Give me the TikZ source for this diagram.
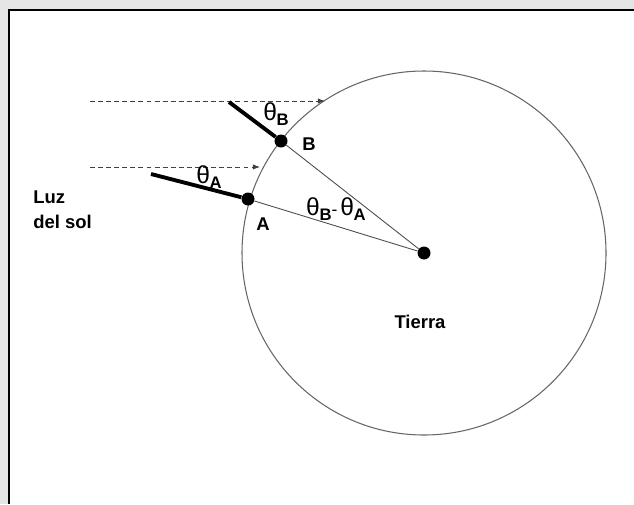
\documentclass[tikz,border=0pt]{standalone}
\usepackage{fontspec}
\setmainfont{Liberation Sans}
\usepackage{tikz}
\usetikzlibrary{arrows.meta}
\newcommand{\angsub}[1]{{\fontsize{14}{14}\selectfont θ}\kern-0.2pt\raisebox{-3pt}{\fontsize{9.5}{9.5}\selectfont\bfseries #1}}

\begin{document}
\begin{tikzpicture}[x=0.02cm, y=-0.02cm,
    dot/.style={circle, fill=black, inner sep=0pt, minimum size=0.26cm},
    lbl/.style={font=\bfseries\fontsize{10.5}{12}\selectfont, inner sep=0pt},
    ray/.style={line width=2.2pt},
    sunray/.style={dash pattern=on 2.8pt off 1.8pt, black!75, line width=0.5pt, -{Latex[length=4pt, width=3pt]}},
    radial/.style={black!70, line width=0.5pt}]
  \useasboundingbox (0,0) rectangle (634,504);
  % --- frame ---
  \fill[gray!20] (0,0) rectangle (634,504);
  \fill[white] (9,10) rectangle (634,504);
  \draw[line width=1.2pt] (9,504) -- (9,10) -- (634,10);
  % --- Earth and the two points ---
  \node[dot] (O) at (424,253) {};
  \draw[black!60, line width=0.6pt] (O.center) circle [radius=182];
  \node[dot] (A) at (248,199) {};
  \node[dot] (B) at (281,141) {};
  \draw[radial] (O) -- (A);
  \draw[radial] (O) -- (B);
  % --- sunlight ---
  \coordinate (sunB) at (90,101);
  \coordinate (hitB) at (325,101);
  \coordinate (sunA) at (90,167);
  \coordinate (hitA) at (260,167);
  \draw[sunray] (sunB) -- (hitB);
  \draw[sunray] (sunA) -- (hitA);
  % --- vertical sticks ---
  \coordinate (topA) at (151,174);
  \coordinate (topB) at (229,102);
  \draw[ray] (topA) -- (A);
  \draw[ray] (topB) -- (B);
  % --- labels ---
  \node[lbl, anchor=west] (luz) at (33,197) {Luz};
  \node[lbl, anchor=west] (sol) at (33,222) {del sol};
  \node[lbl] (labB) at (309,144) {B};
  \node[lbl] (labA) at (263,224) {A};
  \node[lbl] (tierra) at (420,322) {Tierra};
  \node[inner sep=0pt] (angA) at (209,177) {\angsub{A}};
  \node[inner sep=0pt] (angB) at (276,114) {\angsub{B}};
  \node[inner sep=0pt] (diff) at (336,209) {\angsub{B}-\,\angsub{A}};
\end{tikzpicture}
\end{document}
